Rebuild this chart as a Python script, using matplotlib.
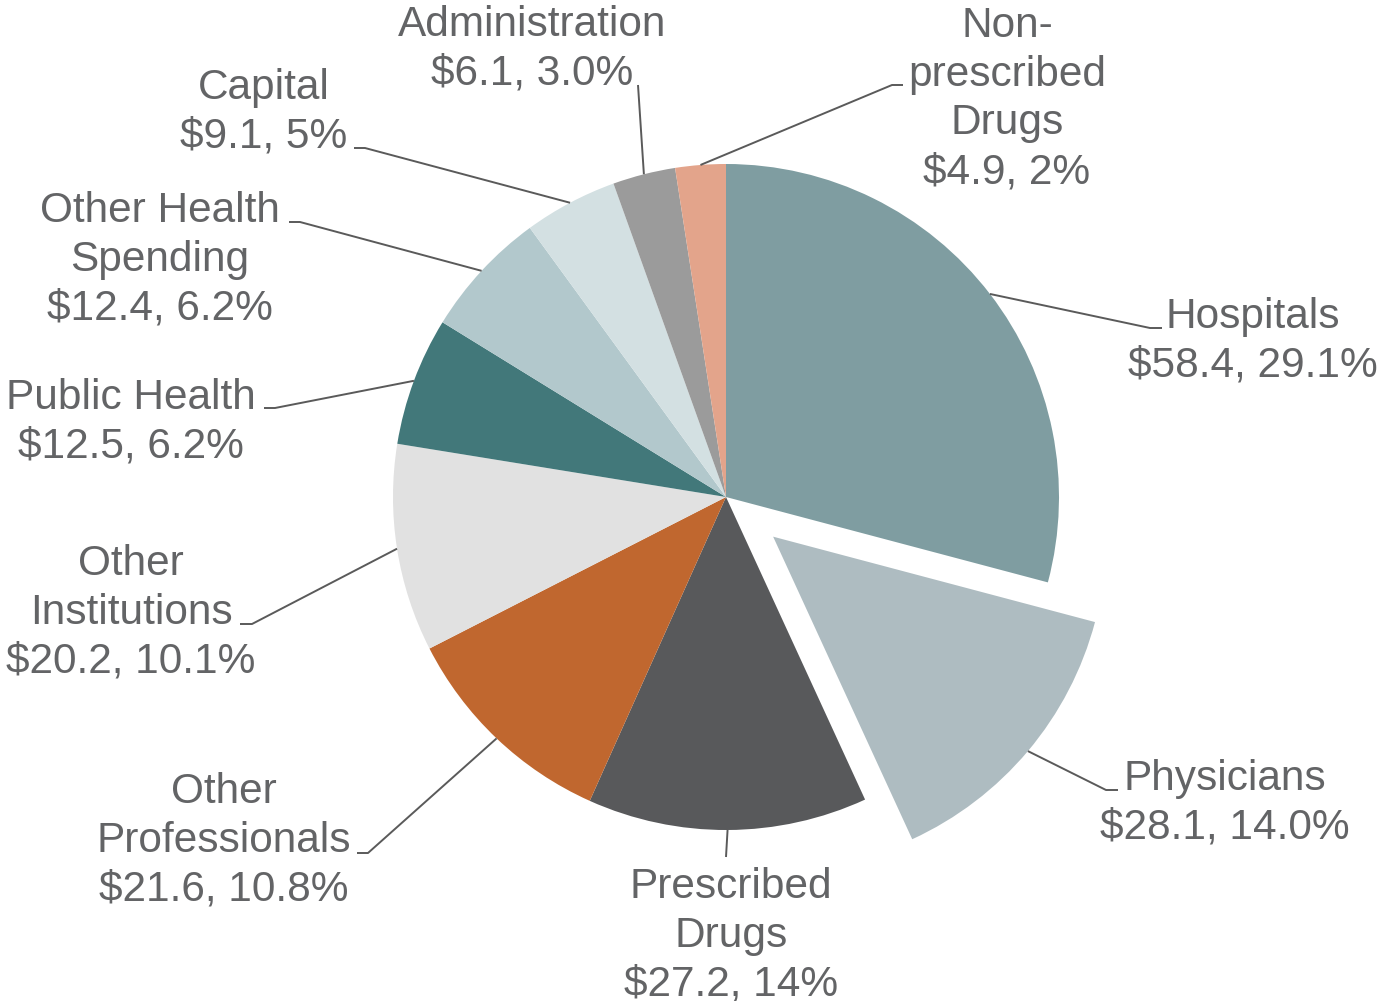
import numpy as np
import matplotlib
matplotlib.use("Agg")
import matplotlib.pyplot as plt

categories = ["Hospitals", "Physicians", "Prescribed\nDrugs", "Other\nProfessionals",
              "Other\nInstitutions", "Public Health", "Other Health\nSpending", "Capital",
              "Administration", "Non-\nprescribed\nDrugs"]
values = [58.4, 28.1, 27.2, 21.6, 20.2, 12.5, 12.4, 9.1, 6.1, 4.9]
pct_labels = ["29.1%", "14.0%", "14%", "10.8%", "10.1%", "6.2%", "6.2%", "5%", "3.0%", "2%"]
colors = ["#7F9DA1", "#AEBCC1", "#58595B", "#C0672F", "#E1E1E1",
          "#42787A", "#B2C8CC", "#D3E0E2", "#9B9B9B", "#E3A48B"]
explode = [0, 0.185, 0, 0, 0, 0, 0, 0, 0, 0]

W, H = 1384, 1001
CX, CY, R = 726, 497, 333  # pixel layout of the pie

# label layout in pixels: text centre, elbow point, line end (near text)
text_pos = [(1253, 341), (1225, 803), (731, 936), (224, 841), (131, 613),
            (131, 422), (160, 260), (264, 112), (532, 49), (1007, 99)]
elbows = [(1150, 328), (1106, 790), (726, 857), (368, 853), (252, 624),
          (275, 408), (300, 222), (365, 148), (638, 85), (892, 85)]
ends = [(1162, 328), (1118, 790), (726, 857), (357, 853), (240, 624),
        (264, 408), (289, 222), (354, 148), (638, 85), (903, 85)]


def px(p):
    return ((p[0] - CX) / R, (CY - p[1]) / R)


fig = plt.figure(figsize=(W / 100, H / 100), dpi=100)
ax = fig.add_axes([0, 0, 1, 1])

wedges, _ = ax.pie(values, colors=colors, startangle=90, counterclock=False,
                   explode=explode, radius=1, center=(0, 0),
                   wedgeprops=dict(linewidth=0))
ax.set_xlim(-CX / R, (W - CX) / R)
ax.set_ylim((CY - H) / R, CY / R)
ax.set_aspect("equal")
ax.axis("off")

font = dict(family=["Liberation Sans", "DejaVu Sans"], size=30.5, color="#636466")
line_color = "#5A5A5A"

for i, w in enumerate(wedges):
    theta = np.deg2rad((w.theta1 + w.theta2) / 2)
    cx, cy = w.center
    sx, sy = cx + w.r * np.cos(theta), cy + w.r * np.sin(theta)
    ex, ey = px(elbows[i])
    fx, fy = px(ends[i])
    ax.plot([sx, ex, fx], [sy, ey, fy], color=line_color, lw=1.4,
            solid_capstyle="butt", zorder=3)
    tx, ty = px(text_pos[i])
    label = f"{categories[i]}\n${values[i]:.1f}, {pct_labels[i]}"
    ax.text(tx, ty, label, ha="center", va="center", multialignment="center",
            linespacing=1.28, **font)

fig.savefig("out.png", dpi=100)
